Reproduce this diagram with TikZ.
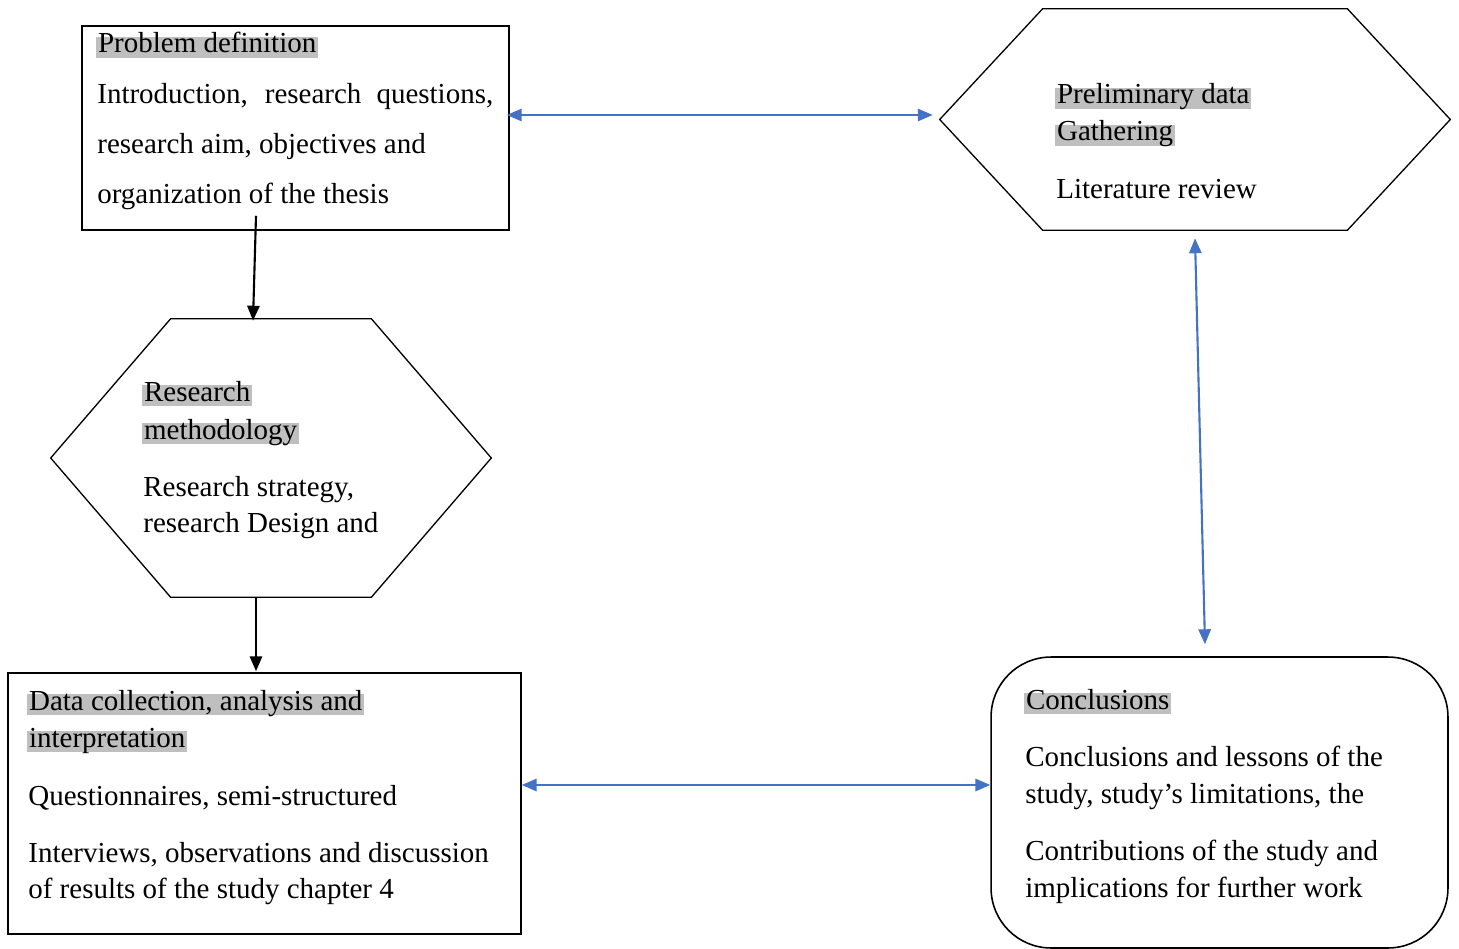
\documentclass[tikz,border=0pt]{standalone}
\usepackage{fontspec}
\setmainfont{Liberation Serif}
\usetikzlibrary{arrows.meta, positioning, calc}

\definecolor{linkblue}{HTML}{4472C4}
\definecolor{hlgray}{HTML}{BFBFBF}

\begin{document}
\begin{tikzpicture}[x=0.02cm, y=-0.02cm,
  every node/.style={font=\fontsize{16.5}{20}\selectfont},
  txt/.style={anchor=base west, inner sep=0pt},
  head/.style={txt, fill=hlgray, inner xsep=1pt, text height=0.9em, text depth=0.28em},
  box/.style={draw, line width=0.9pt, inner sep=0pt},
  hexa/.style={inner sep=0pt},
  hexline/.style={line width=0.75pt, line join=miter},
  flow/.style={-{Triangle[length=8.5pt,width=7pt]}, line width=1.2pt},
  link/.style={{Triangle[length=8.5pt,width=7pt]}-{Triangle[length=8.5pt,width=7pt]}, line width=1.2pt, draw=linkblue}]
  \useasboundingbox (0,0) rectangle (1459,949);

  % frames
  \node[box, minimum width=8.54cm, minimum height=4.08cm] (prob) at (295.5,128) {};
  \node[hexa, minimum width=10.2cm, minimum height=4.42cm] (prelim) at (1195,119.5) {};
  \draw[hexline] (prelim.west) -- ($(prelim.north west)+(103,0)$) -- ($(prelim.north east)+(-103,0)$)
    -- (prelim.east) -- ($(prelim.south east)+(-103,0)$) -- ($(prelim.south west)+(103,0)$) -- cycle;
  \node[hexa, minimum width=8.8cm, minimum height=5.56cm] (method) at (271,458) {};
  \draw[hexline] (method.west) -- ($(method.north west)+(120,0)$) -- ($(method.north east)+(-120,0)$)
    -- (method.east) -- ($(method.south east)+(-120,0)$) -- ($(method.south west)+(120,0)$) -- cycle;
  \node[box, minimum width=10.26cm, minimum height=5.22cm] (data) at (264.5,803.5) {};
  \node[box, rounded corners=1.2cm, minimum width=9.14cm, minimum height=5.82cm] (concl) at (1219.5,802.5) {};

  % problem definition
  \node[head] (prob-h) at (96,53) {Problem definition};
  \node[txt] (prob-1) at (97,104) {\makebox[7.92cm][s]{Introduction, research questions,}};
  \node[txt] (prob-2) at (97,154) {research aim, objectives and};
  \node[txt] (prob-3) at (97,204) {organization of the thesis};

  % preliminary data
  \node[head] (prelim-h1) at (1055,104) {Preliminary data};
  \node[head] (prelim-h2) at (1055,141) {Gathering};
  \node[txt] (prelim-1) at (1056,199) {Literature review};

  % research methodology
  \node[head] (method-h1) at (142,401) {Research};
  \node[head] (method-h2) at (142,439) {methodology};
  \node[txt] (method-1) at (143,496) {Research strategy,};
  \node[txt] (method-2) at (143,532) {research Design and};

  % data collection
  \node[head] (data-h1) at (27,710) {Data collection, analysis and};
  \node[head] (data-h2) at (27,747) {interpretation};
  \node[txt] (data-1) at (28,805) {Questionnaires, semi-structured};
  \node[txt] (data-2) at (28,862) {Interviews, observations and discussion};
  \node[txt] (data-3) at (28,898) {of results of the study chapter 4};

  % conclusions
  \node[head] (concl-h) at (1024,709) {Conclusions};
  \node[txt] (concl-1) at (1025,766) {Conclusions and lessons of the};
  \node[txt] (concl-2) at (1025,803) {study, study’s limitations, the};
  \node[txt] (concl-3) at (1025,860) {Contributions of the study and};
  \node[txt] (concl-4) at (1025,897) {implications for further work};

  % connectors
  \draw[flow] ($(prob.south)+(-39.5,-15)$) -- ($(method.north)+(-18,2)$);
  \draw[flow] ($(method.south)+(-15,0)$) -- ($(data.north)+(-8.5,-1)$);
  \draw[link] ($(prob.east)+(-3,-13)$) -- ($(prelim.west)+(-7,-4.5)$);
  \draw[link] ($(prelim.south)+(0,8)$) -- ($(concl.north)+(-14.5,-12)$);
  \draw[link] ($(data.east)+(0,-18.5)$) -- ($(concl.west)+(0,-17.5)$);
\end{tikzpicture}
\end{document}
